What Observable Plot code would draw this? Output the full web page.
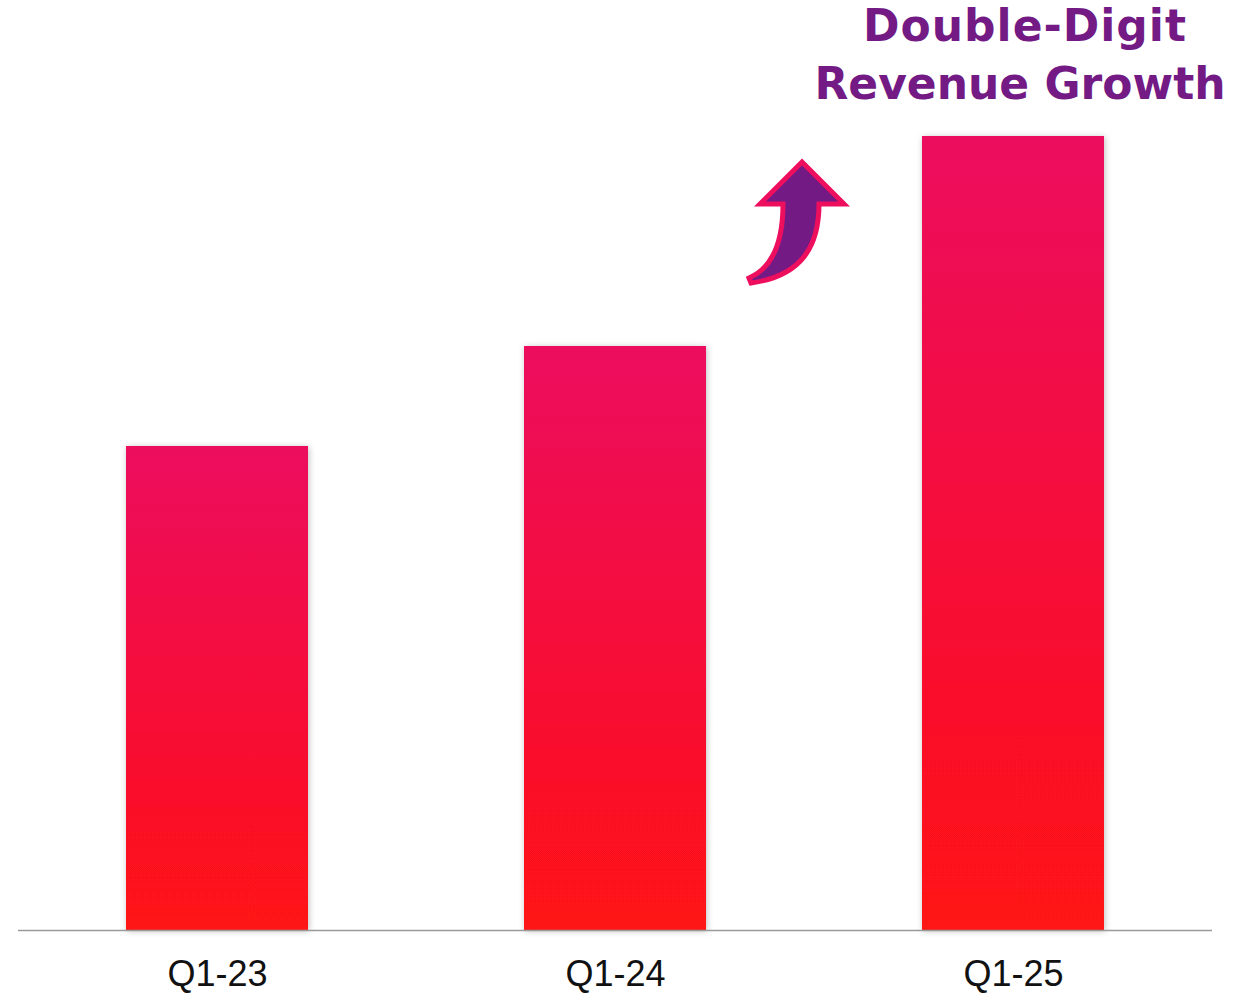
<!DOCTYPE html>
<html>
<head>
<meta charset="utf-8">
<script src="https://cdn.jsdelivr.net/npm/d3@7"></script>
<script src="https://cdn.jsdelivr.net/npm/@observablehq/plot@0.6"></script>
<style>
  html, body { margin: 0; padding: 0; background: #fff; }
  #wrap { position: relative; width: 1248px; height: 994px; }
  #title {
    position: absolute; left: 780px; width: 480px; top: -3px;
    text-align: center; font-family: "DejaVu Sans", sans-serif;
    font-weight: 700; font-size: 44px; line-height: 58px; color: #731A85;
  }
  #title .l1 { letter-spacing: 1px; padding-left: 10px; }
  #title .l2 { letter-spacing: 0px; }
</style>
</head>
<body>
<div id="wrap">
  <div id="chart"></div>
  <div id="title"><div class="l1">Double-Digit</div><div class="l2">Revenue Growth</div></div>
</div>
<script>
const quarters = ["Q1-23", "Q1-24", "Q1-25"];
const revenue = [48.4, 58.4, 79.4];
const yMax = 93;

const data = quarters.map((q, i) => ({quarter: q, value: revenue[i]}));

const chart = Plot.plot({
  width: 1248,
  height: 994,
  marginTop: 0,
  marginLeft: 18,
  marginRight: 36,
  marginBottom: 64,
  style: {background: "#fff", fontFamily: "'Liberation Sans', Arial, sans-serif"},
  x: {domain: quarters, paddingInner: 0.543, paddingOuter: 0.2715, label: null},
  y: {domain: [0, yMax], axis: null},
  marks: [
    Plot.barY(data, {x: "quarter", y: "value", fill: "url(#barGrad)"}),
    Plot.ruleY([0], {stroke: "#9a9a9a", strokeWidth: 1.6}),
    Plot.axisX({tickSize: 0, tickPadding: 30, fontSize: 36, fill: "#111", label: null})
  ]
});

document.getElementById("chart").appendChild(chart);

const svg = d3.select(chart);
const defs = svg.insert("defs", ":first-child");
const grad = defs.append("linearGradient").attr("id", "barGrad")
  .attr("x1", 0).attr("y1", 0).attr("x2", 0).attr("y2", 1);
grad.append("stop").attr("offset", "0%").attr("stop-color", "#EC0E5E");
grad.append("stop").attr("offset", "100%").attr("stop-color", "#FF1216");
const f = defs.append("filter").attr("id", "barShadow")
  .attr("x", "-10%").attr("y", "-5%").attr("width", "120%").attr("height", "110%");
f.append("feDropShadow").attr("dx", 1).attr("dy", 1).attr("stdDeviation", 3)
  .attr("flood-color", "#000").attr("flood-opacity", 0.25);
svg.selectAll("g[aria-label='bar'] rect").attr("filter", "url(#barShadow)");

// Growth arrow annotation, anchored between the last two bars
const xs = chart.scale("x");
const ys = chart.scale("y");
const gapStart = xs.apply(quarters[1]) + xs.bandwidth;
const gapEnd = xs.apply(quarters[2]);
const ax = (gapStart + gapEnd) / 2 - 12;
const ay = ys.apply(d3.max(revenue)) + 26;
svg.append("path")
  .attr("transform", `translate(${ax},${ay})`)
  .attr("d", "M0,0 L42,42 L17,42 C17,84 0,114 -51,121 L-53,116 C-30,106 -19,80 -19,42 L-42,42 Z")
  .attr("fill", "#731A85")
  .attr("stroke", "#EE0E5E")
  .attr("stroke-width", 5)
  .attr("stroke-linejoin", "miter");
</script>
</body>
</html>
